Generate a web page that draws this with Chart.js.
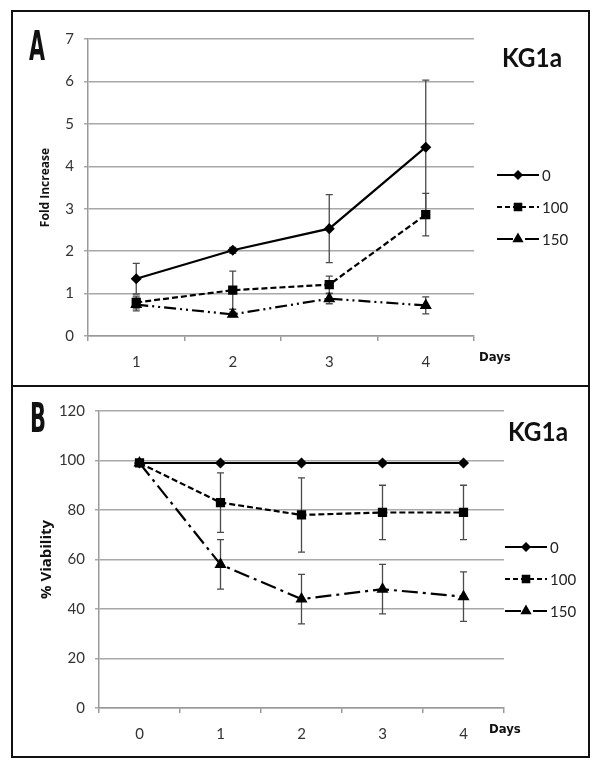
<html>

<head>
    <meta charset="utf-8">
    <title>KG1a fold increase / viability</title>
    <script src="https://cdn.jsdelivr.net/npm/chart.js@4.4.0/dist/chart.umd.min.js"></script>
    <style>
        body {
            margin: 0;
            background: #fff;
        }

        .panel {
            position: absolute;
            left: 0;
        }

        #frame {
            position: absolute;
            left: 11px;
            top: 10px;
            width: 579px;
            height: 748px;
            border: 2px solid #111;
            box-sizing: border-box;
            pointer-events: none;
        }

        #divider {
            position: absolute;
            left: 11px;
            top: 385px;
            width: 579px;
            height: 2px;
            background: #111;
        }
    </style>
</head>

<body>
    <div class="panel" style="top:0px"><canvas id="chartA" width="600" height="387"></canvas></div>
    <div class="panel" style="top:387px"><canvas id="chartB" width="600" height="379"></canvas></div>
    <div id="frame"></div>
    <div id="divider"></div>

    <script>
        // ---- panel A : fold increase ----
        const daysA = ['1', '2', '3', '4'];
        const foldA_0 = [1.35, 2.02, 2.53, 4.45];
        const foldA_0_err = [0.36, 0.07, 0.8, 1.58];
        const foldA_100 = [0.79, 1.08, 1.21, 2.86];
        const foldA_100_err = [0.15, 0.45, 0.2, 0.5];
        const foldA_150 = [0.74, 0.51, 0.88, 0.72];
        const foldA_150_err = [0.15, 0.05, 0.12, 0.2];

        // ---- panel B : % viability ----
        const daysB = ['0', '1', '2', '3', '4'];
        const viabB_0 = [99, 99, 99, 99, 99];
        const viabB_0_err = [0, 0, 0, 0, 0];
        const viabB_100 = [99, 83, 78, 79, 79];
        const viabB_100_err = [0, 12, 15, 11, 11];
        const viabB_150 = [99, 58, 44, 48, 45];
        const viabB_150_err = [0, 10, 10, 10, 10];

        const seriesNames = ['0', '100', '150'];

        const NUM_FONT = "Lato, 'Open Sans', sans-serif";
        const NARROW = "'DejaVu Sans Condensed', sans-serif";

        // error bars drawn from the dataset values through the y scale
        const errorBars = {
            id: 'errorBars',
            beforeDatasetsDraw(chart) {
                const ctx = chart.ctx;
                const y = chart.scales.y;
                ctx.save();
                ctx.strokeStyle = '#4a4a4a';
                ctx.lineWidth = 1.3;
                chart.data.datasets.forEach((ds, i) => {
                    const meta = chart.getDatasetMeta(i);
                    meta.data.forEach((pt, j) => {
                        const e = ds.errors[j];
                        if (!e) return;
                        const top = y.getPixelForValue(ds.data[j] + e);
                        const bot = y.getPixelForValue(ds.data[j] - e);
                        ctx.beginPath();
                        ctx.moveTo(pt.x, top);
                        ctx.lineTo(pt.x, bot);
                        ctx.moveTo(pt.x - 3.5, top);
                        ctx.lineTo(pt.x + 3.5, top);
                        ctx.moveTo(pt.x - 3.5, bot);
                        ctx.lineTo(pt.x + 3.5, bot);
                        ctx.stroke();
                    });
                });
                ctx.restore();
            }
        };

        // text squeezed to a given width (narrow bold look of the original)
        function fitText(ctx, text, x, y, w) {
            const m = ctx.measureText(text).width;
            ctx.save();
            ctx.translate(x, y);
            ctx.scale(Math.min(1, w / m), 1);
            ctx.fillText(text, 0, 0);
            ctx.restore();
        }

        // legend at right, panel letter, cell line name, "Days"
        const decorations = {
            id: 'decorations',
            afterDraw(chart, args, o) {
                const ctx = chart.ctx;
                ctx.save();
                ctx.fillStyle = '#111';
                ctx.textBaseline = 'alphabetic';

                // panel letter, tall and narrow
                ctx.font = 'bold 40px ' + NARROW;
                fitText(ctx, o.letter, o.letterX, o.letterY, 16);

                ctx.font = 'bold 27px Lato, sans-serif';
                fitText(ctx, 'KG1a', o.kgX, o.kgY, 60);

                ctx.font = 'bold 13px ' + NARROW;
                ctx.textBaseline = 'middle';
                ctx.fillText('Days', o.daysX, o.daysY);

                // legend
                chart.data.datasets.forEach((ds, i) => {
                    const ly = o.legY + i * o.legGap;
                    ctx.strokeStyle = '#000';
                    ctx.lineWidth = 2.2;
                    ctx.setLineDash(ds.legendDash);
                    ctx.beginPath();
                    ctx.moveTo(o.legX, ly);
                    ctx.lineTo(o.legX + 42, ly);
                    ctx.stroke();
                    ctx.setLineDash([]);
                    ctx.fillStyle = '#000';
                    Chart.helpers.drawPoint(ctx, {
                        pointStyle: ds.pointStyle,
                        radius: ds.pointRadius - 0.5,
                        rotation: 0,
                        borderWidth: 1
                    }, o.legX + 21, ly);
                    ctx.fillStyle = '#222';
                    ctx.font = '15px ' + NUM_FONT;
                    ctx.textBaseline = 'middle';
                    ctx.fillText(ds.label, o.legX + 45, ly + 1);
                });
                ctx.restore();
            }
        };

        function makeDatasets(vals, errs, dashes) {
            const styles = [
                { pointStyle: 'rectRot', pointRadius: 4, borderDash: [], legendDash: [] },
                { pointStyle: 'rect', pointRadius: 5, borderDash: [6, 3], legendDash: [5, 3] },
                { pointStyle: 'triangle', pointRadius: 4.8, borderDash: dashes, legendDash: [16, 5, 2, 5] }
            ];
            return vals.map((v, i) => Object.assign({
                label: seriesNames[i],
                data: v,
                errors: errs[i],
                borderColor: '#000',
                backgroundColor: '#000',
                pointBackgroundColor: '#000',
                pointBorderColor: '#000',
                borderWidth: 2.2,
                tension: 0,
                fill: false
            }, styles[i]));
        }

        function makeConfig(labels, datasets, ymax, step, yTitle, titleSize, yWidth, xHeight, pad, deco) {
            return {
                type: 'line',
                data: { labels: labels, datasets: datasets },
                options: {
                    responsive: false,
                    animation: false,
                    layout: { padding: pad },
                    plugins: {
                        legend: { display: false },
                        tooltip: { enabled: false },
                        decorations: deco
                    },
                    scales: {
                        x: {
                            offset: true,
                            grid: {
                                offset: true,
                                drawOnChartArea: false,
                                drawTicks: true,
                                tickLength: 5,
                                color: '#9a9a9a',
                                lineWidth: 1.5
                            },
                            border: { color: '#9a9a9a', width: 1.5 },
                            ticks: {
                                color: '#333',
                                padding: 12,
                                font: { family: NUM_FONT, size: 15 }
                            },
                            afterFit(s) { s.height = xHeight; }
                        },
                        y: {
                            min: 0,
                            max: ymax,
                            ticks: {
                                stepSize: step,
                                color: '#333',
                                padding: 10,
                                font: { family: NUM_FONT, size: 15 }
                            },
                            grid: {
                                color: '#a8a8a8',
                                lineWidth: 1.5,
                                tickLength: 4
                            },
                            border: { color: '#9a9a9a', width: 1.5 },
                            title: {
                                display: true,
                                text: yTitle,
                                color: '#111',
                                font: { family: "'Open Sans', sans-serif", size: titleSize, weight: 'bold' },
                                padding: { top: 38, bottom: 0 }
                            },
                            afterFit(s) { s.width = yWidth; }
                        }
                    }
                },
                plugins: [errorBars, decorations]
            };
        }

        const chartA = new Chart(document.getElementById('chartA'), makeConfig(
            daysA,
            makeDatasets([foldA_0, foldA_100, foldA_150], [foldA_0_err, foldA_100_err, foldA_150_err], [12, 4, 2, 4, 2, 4]),
            7, 1, 'Fold Increase', 12, 88, 51,
            { top: 39, right: 126, bottom: 0, left: 0 },
            { letter: 'A', letterX: 29, letterY: 60, kgX: 502, kgY: 67, daysX: 479, daysY: 358, legX: 497, legY: 175, legGap: 32 }
        ));

        const chartB = new Chart(document.getElementById('chartB'), makeConfig(
            daysB,
            makeDatasets([viabB_0, viabB_100, viabB_150], [viabB_0_err, viabB_100_err, viabB_150_err], [16, 5, 3, 5]),
            120, 20, '% Viability', 15, 99, 58,
            { top: 24, right: 96, bottom: 0, left: 0 },
            { letter: 'B', letterX: 30, letterY: 45, kgX: 508, kgY: 54, daysX: 489, daysY: 343, legX: 505, legY: 160, legGap: 32 }
        ));
    </script>
</body>

</html>
